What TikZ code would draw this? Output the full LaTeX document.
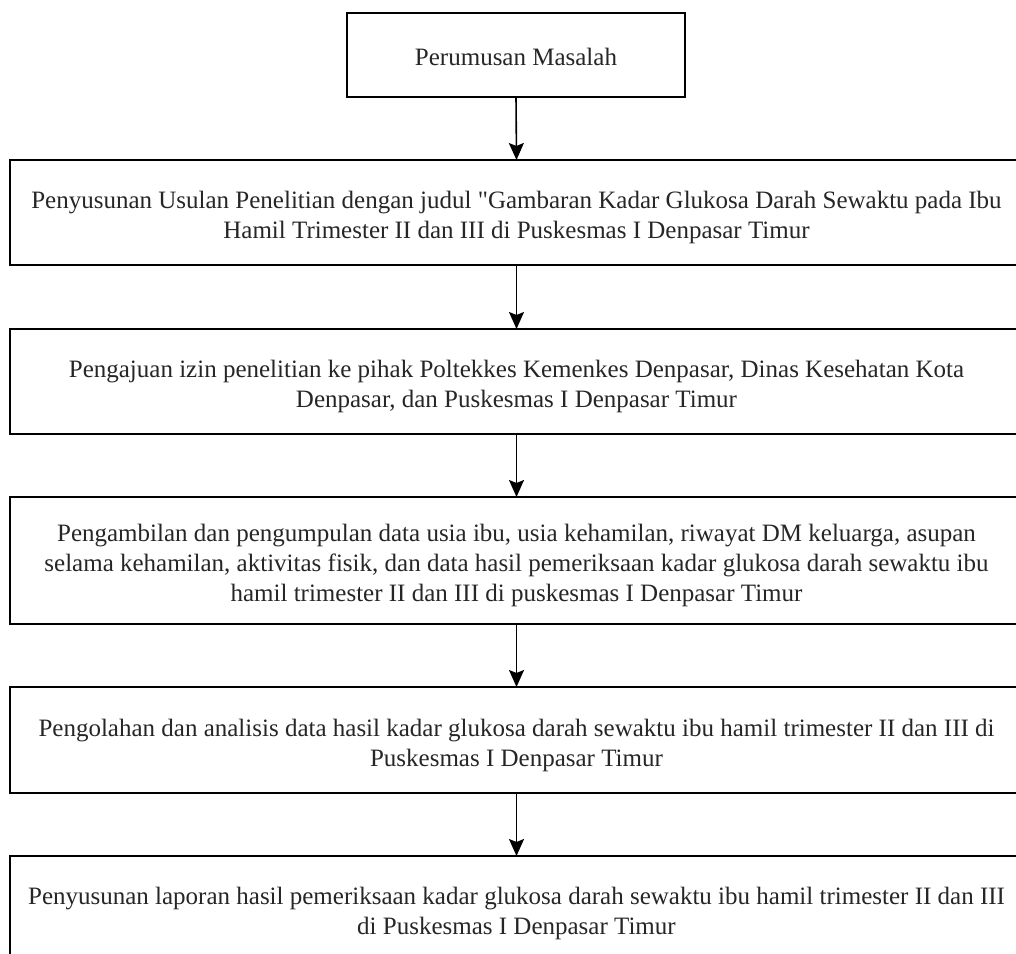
\documentclass[tikz,border=0pt]{standalone}
\usepackage{fontspec}
\setmainfont{Liberation Serif}[Ligatures=TeXOff]
\usetikzlibrary{arrows.meta}
\newcommand{\lowstrut}{\rule{0pt}{28pt}}
\tikzset{
  flowbox/.style={draw=black, line width=1.8pt, rectangle, inner sep=0pt, outer sep=0pt,
    align=center, font=\rmfamily\fontsize{25}{30}\selectfont, text=black!85},
  flowarrow/.style={draw=black, line width=1.6pt, -{Stealth[length=17pt,width=15pt,inset=3pt]}},
}
\begin{document}
\begin{tikzpicture}[x=1pt,y=-1pt]
\useasboundingbox (0,0) rectangle (1016,953);
\node[flowbox, minimum width=338pt, minimum height=84pt] (b1) at (516,55) {\rule{0pt}{22pt}Perumusan Masalah};
\node[flowbox, minimum width=1013pt, minimum height=105pt] (b2) at (516.5,212.5)
  {\lowstrut Penyusunan Usulan Penelitian dengan judul "Gambaran Kadar Glukosa Darah Sewaktu pada Ibu\\
   Hamil Trimester II dan III di Puskesmas I Denpasar Timur};
\node[flowbox, minimum width=1013pt, minimum height=105pt] (b3) at (516.5,381.5)
  {\lowstrut Pengajuan izin penelitian ke pihak Poltekkes Kemenkes Denpasar, Dinas Kesehatan Kota\\
   Denpasar, dan Puskesmas I Denpasar Timur};
\node[flowbox, minimum width=1013pt, minimum height=127pt] (b4) at (516.5,560.5)
  {\lowstrut Pengambilan dan pengumpulan data usia ibu, usia kehamilan, riwayat DM keluarga, asupan\\
   selama kehamilan, aktivitas fisik, dan data hasil pemeriksaan kadar glukosa darah sewaktu ibu\\
   hamil trimester II dan III di puskesmas I Denpasar Timur};
\node[flowbox, minimum width=1013pt, minimum height=106pt] (b5) at (516.5,740)
  {\lowstrut Pengolahan dan analisis data hasil kadar glukosa darah sewaktu ibu hamil trimester II dan III di\\
   Puskesmas I Denpasar Timur};
\node[flowbox, minimum width=1013pt, minimum height=105pt] (b6) at (516.5,908.5)
  {\lowstrut Penyusunan laporan hasil pemeriksaan kadar glukosa darah sewaktu ibu hamil trimester II dan III\\
   di Puskesmas I Denpasar Timur};
\draw[flowarrow] (b1.south) -- (b2.north);
\draw[flowarrow] (b2.south) -- (b3.north);
\draw[flowarrow] (b3.south) -- (b4.north);
\draw[flowarrow] (b4.south) -- (b5.north);
\draw[flowarrow] (b5.south) -- (b6.north);
\end{tikzpicture}
\end{document}
